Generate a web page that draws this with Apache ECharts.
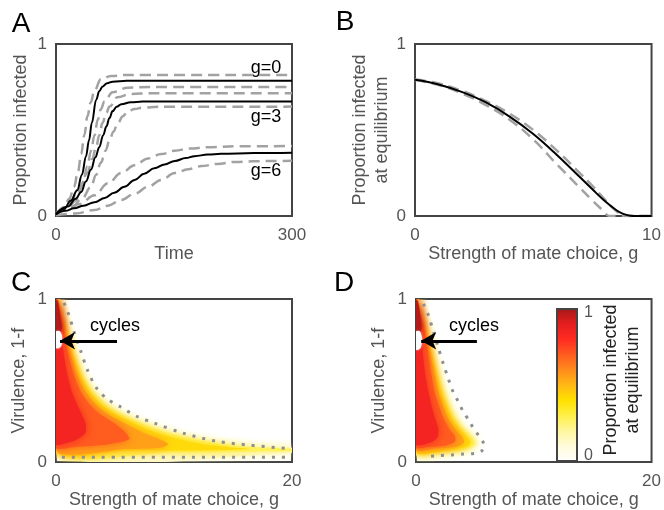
<!DOCTYPE html>
<html><head><meta charset="utf-8">
<script src="https://cdn.jsdelivr.net/npm/echarts@6/dist/echarts.min.js"></script>
<style>html,body{margin:0;padding:0;background:#fff}#c{width:664px;height:510px}</style>
</head><body><div id="c"></div><script>
// ---------- Panel A : time courses ----------
const aG0Solid = [[0,0.01],[10,0.04],[19,0.09],[27,0.15],[33,0.24],[38,0.345],[42,0.44],[45.5,0.54],[51,0.675],[55,0.725],[59,0.752],[65,0.772],[72,0.781],[90,0.786],[300,0.787]];
const aG0Up = [[0,0.01],[10,0.05],[17,0.1],[23,0.17],[28,0.26],[32,0.36],[36,0.47],[40,0.58],[44,0.66],[49,0.73],[57,0.795],[70,0.814],[90,0.82],[300,0.82]];
const aG0Lo = [[0,0.01],[15,0.04],[25,0.09],[34,0.19],[40,0.29],[44.5,0.38],[49,0.47],[53,0.56],[57,0.62],[61.5,0.665],[72,0.72],[91,0.746],[120,0.75],[300,0.75]];
const aG3Solid = [[0,0.01],[15,0.055],[25,0.1],[32,0.14],[38,0.2],[44.5,0.27],[50,0.34],[55,0.4],[60,0.47],[64,0.52],[68,0.57],[72,0.61],[77,0.635],[83,0.65],[95,0.661],[110,0.665],[300,0.665]];
const aG3Up = [[0,0.01],[15,0.06],[28,0.14],[40,0.25],[46,0.33],[51,0.4],[55,0.47],[59,0.54],[64,0.6],[68,0.636],[78,0.69],[95,0.71],[120,0.713],[300,0.713]];
const aG3Lo = [[0,0.01],[20,0.05],[33,0.1],[44.5,0.17],[51,0.24],[57,0.31],[63,0.38],[68,0.44],[73,0.49],[78.5,0.54],[85,0.58],[91,0.607],[100,0.622],[110,0.63],[130,0.635],[300,0.636]];
const aG6Solid = [[0,0.01],[12,0.03],[23,0.045],[35,0.06],[49,0.08],[62,0.105],[74,0.135],[87,0.17],[100,0.21],[112,0.245],[125,0.277],[138,0.3],[151,0.32],[165,0.337],[176,0.348],[193,0.357],[210,0.362],[252,0.366],[300,0.368]];
const aG6Up = [[0,0.01],[15,0.04],[30,0.07],[49,0.12],[66,0.19],[83,0.25],[100,0.295],[117,0.335],[134,0.36],[151,0.38],[170,0.392],[193,0.4],[230,0.405],[300,0.407]];
const aG6Lo = [[0,0.005],[25,0.015],[49,0.035],[66,0.06],[83,0.093],[100,0.13],[117,0.17],[134,0.21],[151,0.25],[168,0.272],[185,0.29],[205,0.303],[227,0.314],[250,0.318],[278,0.32],[300,0.321]];
const aLabels = ['g=0','g=3','g=6'];

// ---------- Panel B : equilibrium vs g ----------
const bSolid = [[0,0.792],[1,0.765],[2,0.72],[3,0.66],[4,0.578],[5,0.477],[6,0.355],[7,0.222],[7.5,0.155],[8,0.09],[8.5,0.035],[8.8,0.012],[9.1,0.002],[9.4,0],[10,0]];
const bDashLo = [[0,0.79],[1,0.762],[2,0.712],[3,0.645],[4,0.56],[5,0.445],[6,0.3],[7,0.16],[7.5,0.09],[8,0.025],[8.2,0],[10,0]];
const bDashHi = [[0,0.795],[1,0.77],[2,0.727],[3,0.668],[4,0.595],[5,0.5],[6,0.38],[7,0.245],[7.5,0.175],[8,0.1],[8.5,0.03],[8.85,0],[10,0]];

// ---------- Panel C : filled contour regions (g, virulence) ----------
const cEdge = [[0,1],[0.3,1],[0.6,0.9],[0.95,0.82],[1.35,0.72],[1.85,0.62],[2.4,0.53],[3.3,0.43],[4.5,0.35],[5.9,0.29],[7.8,0.235],[10,0.18],[12.5,0.14],[15.2,0.11],[18.5,0.092],[20,0.088],[20,0.058],[0,0.056]];
const cL20 = [[0,1],[0.26,1],[0.56,0.9],[0.88,0.82],[1.25,0.72],[1.72,0.62],[2.23,0.53],[3.07,0.43],[4.18,0.35],[5.5,0.29],[7.25,0.235],[9.3,0.18],[11.6,0.14],[14,0.11],[16.5,0.093],[20,0.082],[20,0.066],[10,0.064],[0,0.062]];
const cL35 = [[0,1],[0.22,1],[0.52,0.9],[0.82,0.82],[1.16,0.72],[1.6,0.62],[2.06,0.53],[2.84,0.43],[3.87,0.35],[5.1,0.29],[6.7,0.235],[8.5,0.18],[10.5,0.14],[12.5,0.11],[15,0.09],[16.5,0.08],[13,0.072],[6,0.07],[0,0.069]];
const cL50 = [[0,1],[0.2,1],[0.48,0.9],[0.74,0.82],[1.03,0.72],[1.42,0.62],[1.83,0.53],[2.52,0.43],[3.43,0.35],[4.5,0.29],[5.9,0.235],[7.4,0.18],[8.8,0.14],[9.5,0.11],[9,0.09],[6,0.08],[0,0.078]];
const cL65 = [[0,1],[0.15,1],[0.42,0.9],[0.64,0.82],[0.87,0.72],[1.2,0.62],[1.55,0.53],[2.12,0.43],[2.9,0.35],[3.8,0.29],[5,0.235],[5.9,0.18],[6.2,0.14],[4.5,0.11],[1.5,0.093],[0,0.09]];
const cL80 = [[0,0.99],[0.3,0.9],[0.42,0.82],[0.55,0.72],[0.75,0.62],[0.98,0.53],[1.35,0.43],[1.8,0.35],[2.2,0.29],[2.5,0.235],[2.5,0.18],[1.8,0.14],[0.8,0.115],[0,0.108]];
const cDark = [[0,0.995],[0.15,0.985],[0.3,0.93],[0.42,0.87],[0.5,0.83],[0.42,0.8],[0,0.8]];
const cCycles = [[0,0.8],[0.3,0.802],[0.48,0.78],[0.52,0.75],[0.45,0.715],[0.25,0.7],[0,0.7]];
const cBoundary = [[0.68,0.976],[1.1,0.9],[1.53,0.8],[2.09,0.683],[2.66,0.565],[3.5,0.447],[4.35,0.387],[5.48,0.338],[6.89,0.279],[8.3,0.24],[10.8,0.177],[13.6,0.128],[16.4,0.104],[19.55,0.084]];
const cBottom = [[0.5,0.03],[20,0.03]];

// ---------- Panel D ----------
const dEdge = [[0,1],[0.21,1],[0.56,0.9],[0.92,0.82],[1.3,0.72],[1.65,0.62],[2.0,0.53],[2.47,0.43],[2.9,0.35],[3.45,0.27],[4.2,0.2],[4.8,0.16],[5.3,0.125],[5.2,0.1],[4.8,0.085],[4.0,0.07],[3.4,0.059],[2,0.05],[0,0.046]];
const dL20 = [[0,1],[0.19,1],[0.53,0.9],[0.87,0.82],[1.23,0.72],[1.56,0.62],[1.89,0.53],[2.3,0.43],[2.72,0.35],[3.25,0.27],[3.95,0.2],[4.55,0.16],[5.0,0.125],[4.85,0.098],[3.8,0.072],[2,0.06],[0,0.056]];
const dL35 = [[0,1],[0.17,1],[0.5,0.9],[0.82,0.82],[1.15,0.72],[1.46,0.62],[1.76,0.53],[2.12,0.43],[2.52,0.35],[3.02,0.27],[3.7,0.2],[4.25,0.16],[4.65,0.125],[4.4,0.097],[3,0.077],[0,0.068]];
const dL50 = [[0,1],[0.15,1],[0.46,0.9],[0.76,0.82],[1.06,0.72],[1.33,0.62],[1.6,0.53],[1.9,0.43],[2.28,0.35],[2.72,0.27],[3.35,0.2],[3.85,0.16],[4.1,0.125],[3.6,0.097],[1.5,0.082],[0,0.078]];
const dL65 = [[0,1],[0.12,1],[0.42,0.9],[0.68,0.82],[0.93,0.72],[1.13,0.62],[1.33,0.53],[1.58,0.43],[1.93,0.35],[2.33,0.27],[2.85,0.2],[3.3,0.16],[3.3,0.125],[2.4,0.1],[0.8,0.091],[0,0.089]];
const dL80 = [[0,0.99],[0.3,0.9],[0.42,0.82],[0.52,0.72],[0.65,0.62],[0.8,0.53],[1.05,0.43],[1.3,0.35],[1.6,0.27],[1.9,0.2],[1.8,0.15],[1.2,0.12],[0,0.11]];
const dDark = [[0,0.995],[0.15,0.985],[0.3,0.93],[0.42,0.87],[0.48,0.83],[0.4,0.8],[0,0.8]];
const dCycles = [[0,0.8],[0.3,0.802],[0.45,0.78],[0.5,0.745],[0.42,0.705],[0.22,0.69],[0,0.69]];
const dBoundary = [[0.63,0.97],[1.05,0.9],[1.48,0.8],[1.9,0.7],[2.33,0.6],[2.75,0.51],[3.17,0.427],[3.6,0.37],[4.0,0.31],[4.45,0.26],[4.86,0.21],[5.3,0.165],[5.7,0.122],[5.85,0.095],[5.6,0.07],[5.1,0.055],[4.0,0.049],[3.0,0.044],[2.0,0.04],[0.86,0.033]];

// arrows "cycles": [start g, end g, virulence]
const arrowC = [5.17, 0.34, 0.744];
const arrowD = [5.17, 0.44, 0.744];

// level fill colours (edge → inner) and colour bar
const levelColors = ['#fff8c8','#fff15a','#ffda0a','#ffa018','#ff5c20','#f42422','#b51a1a','#ffffff'];
const cbValues = [0, 0.1, 0.2, 0.3, 0.4, 0.5, 0.6, 0.7, 0.8, 0.9, 1.0];
const cbColors = ['#ffffff','#fffbdc','#fff6a0','#fff04a','#ffe100','#ffb814','#ff8a1c','#ff5a20','#ff2a22','#e31e1e','#a31818'];
const cbTicks = ['0','1'];

const FONT = "'Liberation Sans', Arial, Helvetica, sans-serif";
const chart = echarts.init(document.getElementById('c'), null, {renderer:'canvas'});

const grids = [
  {left:56, top:44, width:236, height:172},
  {left:415, top:44, width:238, height:172},
  {left:56, top:299, width:236, height:169},
  {left:416, top:299, width:237, height:169}
].map(g => Object.assign(g, {show:true, borderColor:'#444', borderWidth:2, backgroundColor:'transparent', containLabel:false}));

function xAx(gi, max, name) {
  return {type:'value', gridIndex:gi, min:0, max:max, interval:max,
    axisLine:{show:false}, axisTick:{show:false}, splitLine:{show:false},
    axisLabel:{color:'#555', fontSize:17, margin:11, fontFamily:FONT},
    name:name, nameLocation:'middle', nameGap:24,
    nameTextStyle:{color:'#555', fontSize:18, fontFamily:FONT}};
}
function yAx(gi, name, gap) {
  return {type:'value', gridIndex:gi, min:0, max:1, interval:1,
    axisLine:{show:false}, axisTick:{show:false}, splitLine:{show:false},
    axisLabel:{color:'#555', fontSize:17, margin:9, fontFamily:FONT},
    name:name, nameLocation:'middle', nameGap:gap, nameRotate:90,
    nameTextStyle:{color:'#555', fontSize:18, fontFamily:FONT, lineHeight:22}};
}

function line(gi, data, dashed, monotone) {
  const s = {type:'line', xAxisIndex:gi, yAxisIndex:gi, data:data, showSymbol:false, smooth:0.4,
    silent:true, animation:false, z: dashed ? 2 : 3,
    lineStyle: dashed ? {color:'#a2a2a2', width:2.5, type:[11,6]} : {color:'#000', width:2}};
  if (monotone) s.smoothMonotone = 'x';
  return s;
}
function regions(gi, polys) {
  return {type:'custom', xAxisIndex:gi, yAxisIndex:gi, clip:true, silent:true, animation:false, z:1,
    data: polys.map((p,i) => [p[0][0], p[0][1], i]),
    renderItem: function(params, api) {
      const i = params.dataIndex;
      const pts = polys[i].map(p => api.coord(p));
      const col = levelColors[i];
      return {type:'polygon', shape:{points:pts, smooth:0.25},
        style:{fill:col, shadowBlur: i === 7 ? 2 : 9, shadowColor:col}};
    }};
}
function dotted(gi, data, arrow) {
  const s = {type:'line', xAxisIndex:gi, yAxisIndex:gi, data:data, showSymbol:false, smooth:0.3,
    silent:true, animation:false, z:4,
    lineStyle:{color:'#8f8f8f', width:3, type:[3,7]}};
  if (arrow) {
    s.markLine = {silent:true, animation:false, symbol:['none','arrow'], symbolSize:[13,15],
      label:{show:false}, lineStyle:{color:'#000', width:3, type:'solid'},
      data:[[{coord:[arrow[0], arrow[2]]},{coord:[arrow[1], arrow[2]]}]]};
  }
  return s;
}

const txt = (x, y, t) => ({type:'text', x:x, y:y, silent:true,
  style:{text:t, fill:'#000', font:'18px ' + FONT, textAlign:'center', textVerticalAlign:'middle'}});
const letter = (x, y, t) => ({type:'text', x:x, y:y, silent:true,
  style:{text:t, fill:'#000', font:'28px ' + FONT, textAlign:'center', textVerticalAlign:'middle'}});

const cbGradient = new echarts.graphic.LinearGradient(0, 1, 0, 0,
  cbValues.map((v,i) => ({offset:v, color:cbColors[i]})));

const option = {
  animation:false,
  backgroundColor:'#fff',
  grid: grids,
  xAxis: [xAx(0,300,'Time'), xAx(1,10,'Strength of mate choice, g'), xAx(2,20,'Strength of mate choice, g'), xAx(3,20,'Strength of mate choice, g')],
  yAxis: [yAx(0,'Proportion infected',24), yAx(1,'Proportion infected\nat equilibrium',13), yAx(2,'Virulence, 1-f',26), yAx(3,'Virulence, 1-f',26)],
  series: [
    line(0,aG0Up,true,true), line(0,aG0Lo,true,true), line(0,aG3Up,true,true), line(0,aG3Lo,true,true), line(0,aG6Up,true,true), line(0,aG6Lo,true,true),
    line(0,aG0Solid,false,true), line(0,aG3Solid,false,true), line(0,aG6Solid,false,true),
    line(1,bDashLo,true,false), line(1,bDashHi,true,false), line(1,bSolid,false,false),
    regions(2,[cEdge,cL20,cL35,cL50,cL65,cL80,cDark,cCycles]),
    dotted(2,cBoundary,arrowC), dotted(2,cBottom,null),
    regions(3,[dEdge,dL20,dL35,dL50,dL65,dL80,dDark,dCycles]),
    dotted(3,dBoundary,arrowD)
  ],
  graphic: [
    letter(21, 24, 'A'), letter(345, 22, 'B'), letter(21, 283, 'C'), letter(344, 283, 'D'),
    txt(266, 68, aLabels[0]), txt(266, 117, aLabels[1]), txt(266, 171, aLabels[2]),
    txt(115, 326, 'cycles'), txt(474, 326, 'cycles'),
    {type:'rect', shape:{x:557, y:309, width:20, height:152}, silent:true, z:10,
      style:{fill:cbGradient, stroke:'#444', lineWidth:2}},
    {type:'text', x:584, y:313, silent:true, z:10, style:{text:cbTicks[1], fill:'#555', font:'16px ' + FONT, textAlign:'left', textVerticalAlign:'middle'}},
    {type:'text', x:584, y:456, silent:true, z:10, style:{text:cbTicks[0], fill:'#555', font:'16px ' + FONT, textAlign:'left', textVerticalAlign:'middle'}},
    {type:'text', x:611, y:380, rotation:Math.PI/2, silent:true, z:10, style:{text:'Proportion infected', fill:'#222', font:'18px ' + FONT, textAlign:'center', textVerticalAlign:'middle'}},
    {type:'text', x:633, y:380, rotation:Math.PI/2, silent:true, z:10, style:{text:'at equilibrium', fill:'#222', font:'18px ' + FONT, textAlign:'center', textVerticalAlign:'middle'}}
  ]
};
chart.setOption(option);
</script></body></html>
